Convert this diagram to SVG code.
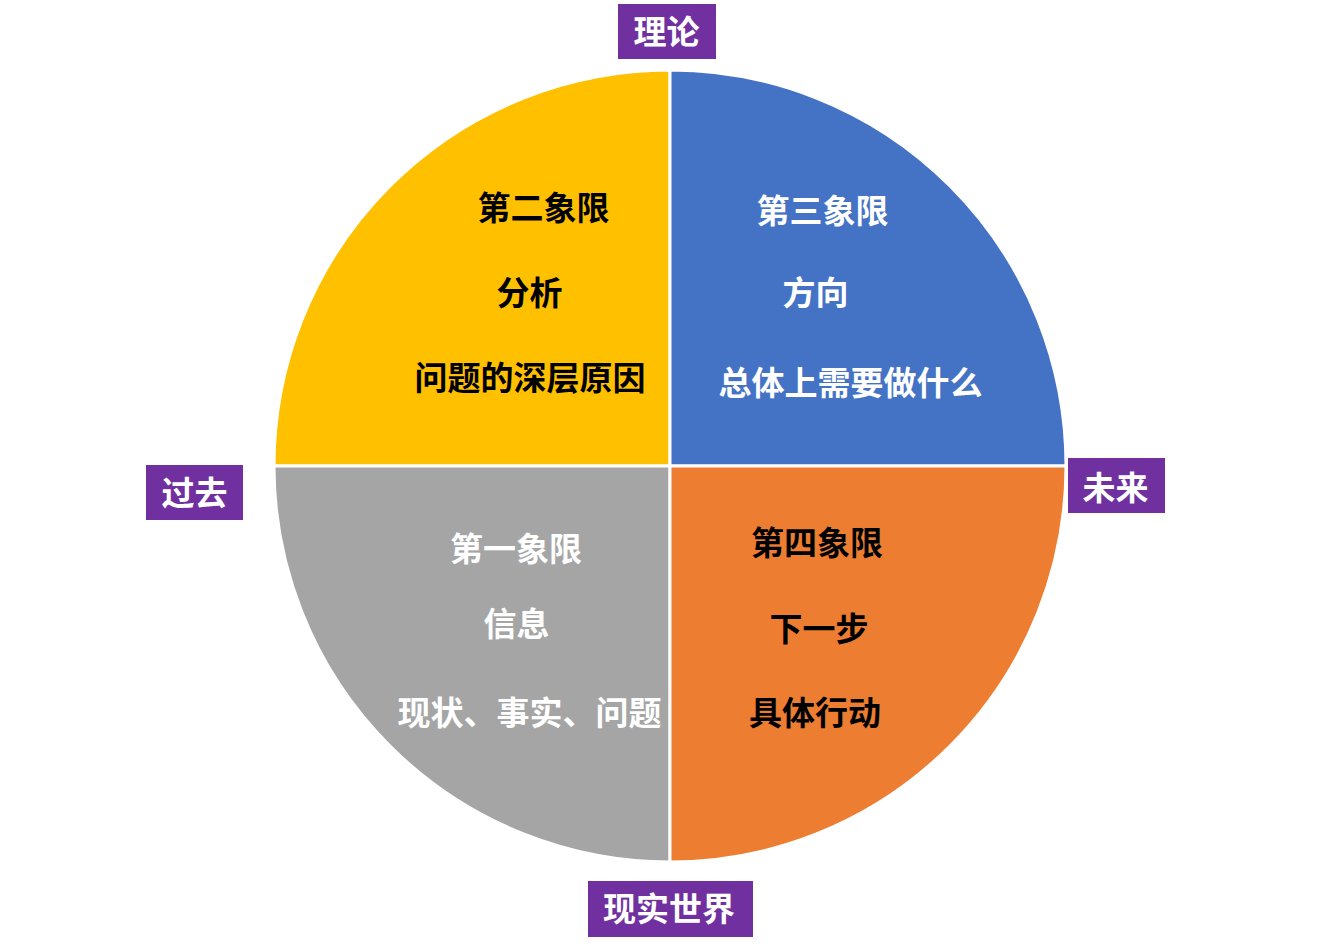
<svg xmlns="http://www.w3.org/2000/svg" width="1334" height="949" viewBox="0 0 1334 949">
<style>
.q{stroke:#FFFFFF;stroke-width:3;stroke-linejoin:round}
.t{font-family:"Noto Sans CJK SC","Noto Sans",sans-serif;font-weight:bold;font-size:33px;text-anchor:middle}
.w{fill:#FFFFFF}
.k{fill:#000000}
.lab{fill:#7030A0}
</style>
<rect x="0" y="0" width="1334" height="949" fill="#FFFFFF"/>
<g id="q2">
<path class="q" fill="#FFC000" d="M670,466 L274,466 A396,396 0 0 1 670,70 Z"/>
<text class="t k" x="543.5" y="219.5">第二象限</text>
<text class="t k" x="529.5" y="304.5">分析</text>
<text class="t k" x="530" y="389.5">问题的深层原因</text>
</g>
<g id="q3">
<path class="q" fill="#4472C4" d="M670,466 L670,70 A396,396 0 0 1 1066,466 Z"/>
<text class="t w" x="822.5" y="222.5">第三象限</text>
<text class="t w" x="815.5" y="304.5">方向</text>
<text class="t w" x="850.5" y="394.5">总体上需要做什么</text>
</g>
<g id="q1">
<path class="q" fill="#A5A5A5" d="M670,466 L670,862 A396,396 0 0 1 274,466 Z"/>
<text class="t w" x="516" y="560.5">第一象限</text>
<text class="t w" x="516.5" y="635.5">信息</text>
<text class="t w" x="529.5" y="724.5">现状、事实、问题</text>
</g>
<g id="q4">
<path class="q" fill="#ED7D31" d="M670,466 L1066,466 A396,396 0 0 1 670,862 Z"/>
<text class="t k" x="817" y="554.5">第四象限</text>
<text class="t k" x="819" y="640.5">下一步</text>
<text class="t k" x="815" y="724.5">具体行动</text>
</g>
<g id="label-theory">
<rect class="lab" x="618" y="4" width="98" height="55"/>
<text class="t w" x="666.5" y="43.5">理论</text>
</g>
<g id="label-future">
<rect class="lab" x="1068" y="458" width="97" height="55"/>
<text class="t w" x="1115.5" y="499.5">未来</text>
</g>
<g id="label-past">
<rect class="lab" x="146" y="465" width="97" height="55"/>
<text class="t w" x="194.5" y="504.5">过去</text>
</g>
<g id="label-reality">
<rect class="lab" x="588" y="881" width="165" height="56"/>
<text class="t w" x="669" y="920.5">现实世界</text>
</g>
<g id="connectors"></g>
</svg>
